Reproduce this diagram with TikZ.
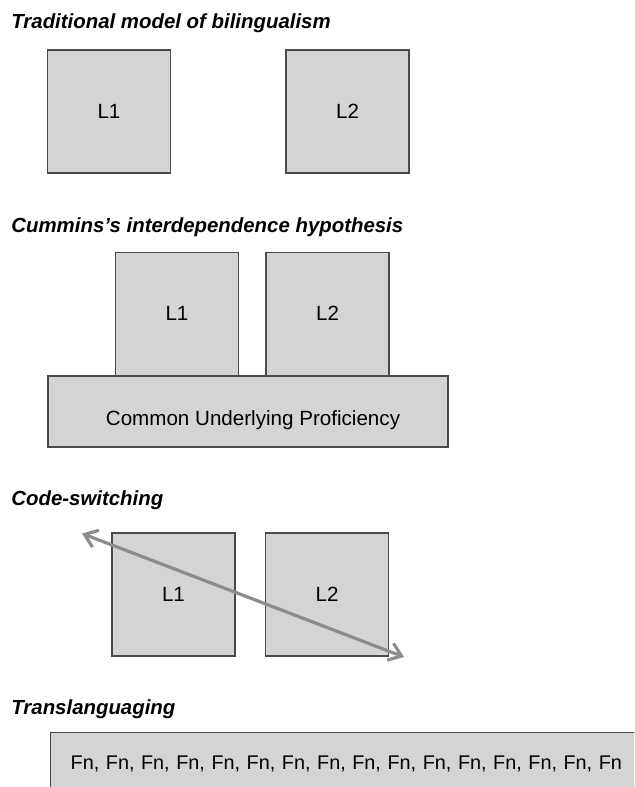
\documentclass[tikz,border=0pt]{standalone}
\usepackage{fontspec}
\setmainfont{Liberation Sans}
\usetikzlibrary{positioning}
\usetikzlibrary{arrows.meta}
\definecolor{boxgray}{HTML}{D3D4D6}
\definecolor{linegray}{HTML}{4A4A4A}
\definecolor{arrowgray}{HTML}{8C8C8C}
\tikzset{
    title/.style = {anchor=base west, inner sep=0pt, font=\fontsize{10.2}{12}\selectfont\bfseries\itshape},
    lbox/.style = {rectangle, draw=linegray, line width=0.7pt, fill=boxgray, font=\fontsize{10.3}{12}\selectfont},
    sqbox/.style = {lbox, minimum width=61.5pt, minimum height=61.5pt},
    edgecs/.style = {{Straight Barb[length=6pt,width=9pt]}-{Straight Barb[length=6pt,width=9pt]}, line width=1.6pt, arrowgray}
}

\begin{document}
\begin{tikzpicture}[x=0.5pt,y=-0.5pt]
\clip (0,0) rectangle (634,787);
\useasboundingbox (0,0) rectangle (634,787);
% traditional model
\node[title] at (11,28) (t1) {Traditional model of bilingualism};
\node[sqbox] at (109,111.5) (a1) {L1};
\node[sqbox] at (347.5,111.5) (a2) {L2};
% interdependence
\node[title] at (11,232) (t2) {Cummins’s interdependence hypothesis};
\node[lbox, minimum width=200pt, minimum height=35.5pt, text height=14pt, text depth=0pt, inner xsep=0pt] at (248,411.5) (cup) {\hspace*{5pt}Common Underlying Proficiency};
\node[sqbox, anchor=south] at (177,376) (b1) {L1};
\node[sqbox, anchor=south] at (327.5,376) (b2) {L2};
% code-switching
\node[title] at (11,505) (t3) {Code-switching};
\node[sqbox] at (173.5,594.5) (c1) {L1};
\node[sqbox] at (327,594.5) (c2) {L2};
\coordinate (cs1) at (82,533.5);
\coordinate (cs2) at (404,657);
\draw[edgecs] (cs1) -- (cs2);
% translanguaging
\node[title] at (11,714) (t4) {Translanguaging};
\node[lbox, anchor=north west, minimum width=320pt, minimum height=31pt, text width=300pt, align=left, inner xsep=9pt, font=\fontsize{9.9}{12}\selectfont] at (50,732) (tl)
  {Fn, Fn, Fn, Fn, Fn, Fn, Fn, Fn, Fn, Fn, Fn, Fn, Fn, Fn, Fn, Fn};

\end{tikzpicture}
\end{document}
